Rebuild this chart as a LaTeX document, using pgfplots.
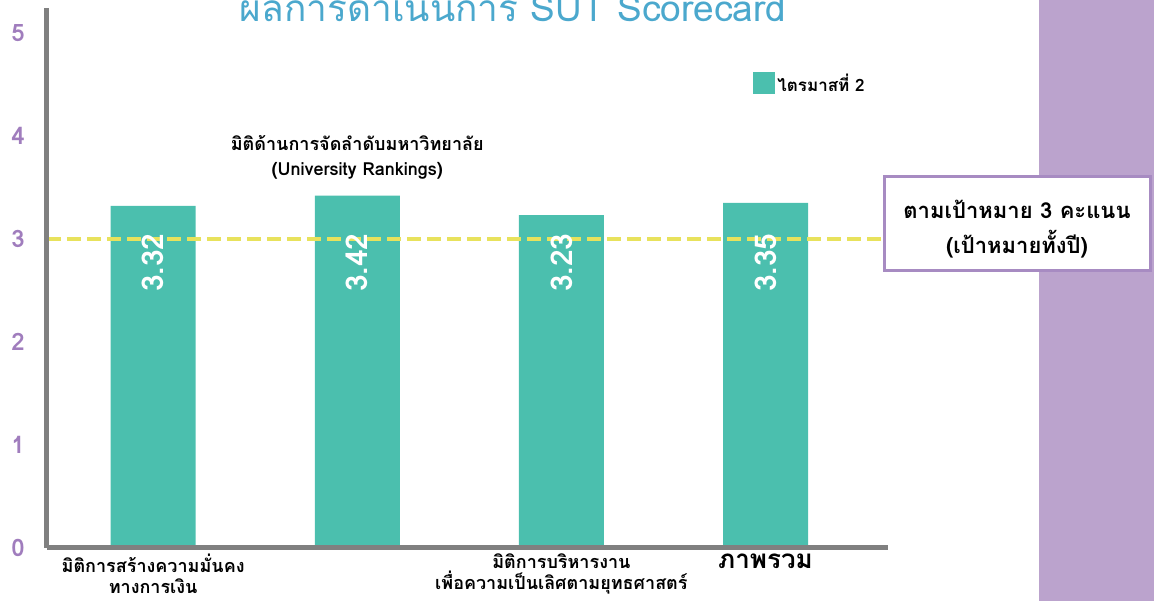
\documentclass[border=0pt]{standalone}
\usepackage{pgfplots}
\pgfplotsset{compat=1.18}
\usepackage{fontspec}
\setmainfont[Script=Thai]{Loma}
\definecolor{barteal}{HTML}{4BBFAE}
\definecolor{axisgray}{HTML}{808080}
\definecolor{goalyellow}{HTML}{E8E25C}
\definecolor{tickpurple}{HTML}{A07DBD}
\definecolor{bandpurple}{HTML}{BBA3CD}
\definecolor{boxpurple}{HTML}{A78BC2}
\definecolor{titleblue}{HTML}{4BA8CD}

\begin{document}
\begin{tikzpicture}[x=1pt,y=1pt]
\useasboundingbox (0,0) rectangle (1154,601);
\clip (0,0) rectangle (1154,601);
\fill[bandpurple] (1039,0) rectangle (1154,601);

\node[anchor=base, text=titleblue, font=\fontsize{37}{37}\selectfont] at (513,579) {ผลการดำเนินการ SUT Scorecard};

\begin{axis}[
    at={(47pt,53pt)}, anchor=south west,
    scale only axis, width=841pt, height=540pt,
    ybar, bar width=85pt,
    xmin=-0.52, xmax=3.6, ymin=0, ymax=5.24,
    axis lines=left,
    axis line style={draw=axisgray, line width=5pt, -},
    axis on top,
    clip=false,
    major tick length=0pt,
    /pgf/number format/assume math mode=true,
    ytick={0,1,2,3,4,5},
    yticklabel style={anchor=center, xshift=-29pt, text=tickpurple,
        font=\bfseries\fontsize{24}{24}\selectfont},
    xtick={0,1,2,3},
    xticklabels={{มิติการสร้างความมั่นคง\\ทางการเงิน}, {},
        {มิติการบริหารงาน\\เพื่อความเป็นเลิศตามยุทธศาสตร์},
        {\fontsize{26}{28}\selectfont ภาพรวม}},
    xticklabel style={align=center, anchor=north, yshift=-2pt,
        font=\bfseries\fontsize{18}{21}\selectfont},
    legend style={at={(axis cs:2.94,4.51)}, anchor=west, draw=none, fill=none,
        inner sep=0pt, font=\bfseries\fontsize{17}{20}\selectfont},
    legend image code/.code={\fill[barteal] (0pt,-11pt) rectangle (22pt,11pt);},
]
\addplot[fill=barteal, draw=none] coordinates {(0,3.32) (1,3.42) (2,3.23) (3,3.35)};
\addlegendentry{ไตรมาสที่ 2}

\addplot[sharp plot, draw=goalyellow, line width=4.5pt, dash pattern=on 14pt off 6pt, forget plot]
    coordinates {(-0.52,3) (3.65,3)};

\node[rotate=90, text=white, font=\bfseries\fontsize{30}{30}\selectfont] at (axis cs:0,2.77) {3.32};
\node[rotate=90, text=white, font=\bfseries\fontsize{30}{30}\selectfont] at (axis cs:1,2.77) {3.42};
\node[rotate=90, text=white, font=\bfseries\fontsize{30}{30}\selectfont] at (axis cs:2,2.77) {3.23};
\node[rotate=90, text=white, font=\bfseries\fontsize{30}{30}\selectfont] at (axis cs:3,2.77) {3.35};

\node[align=center, font=\bfseries\fontsize{18}{25}\selectfont] at (axis cs:1,3.79)
    {มิติด้านการจัดลำดับมหาวิทยาลัย\\(University Rankings)};
\end{axis}

\node[draw=boxpurple, line width=3pt, fill=white, minimum width=266pt,
      minimum height=94pt] at (1017,377) {};
\node[align=center, font=\bfseries\fontsize{22}{35}\selectfont] at (1017,372)
    {ตามเป้าหมาย 3 คะแนน\\(เป้าหมายทั้งปี)};
\end{tikzpicture}
\end{document}
